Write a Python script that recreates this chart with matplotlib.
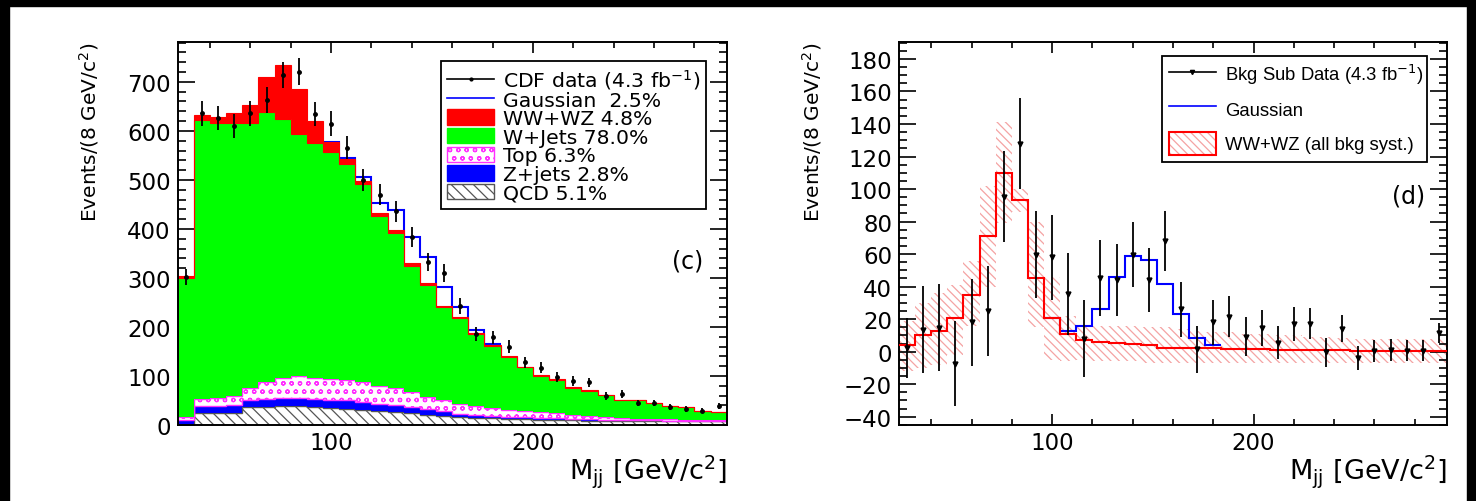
import numpy as np
import matplotlib
matplotlib.use("Agg")
import matplotlib.pyplot as plt
from matplotlib.patches import Rectangle, Patch
from matplotlib.lines import Line2D
from matplotlib.ticker import MultipleLocator
from matplotlib.legend_handler import HandlerTuple

plt.rcParams['font.family'] = ['DejaVu Sans']
plt.rcParams['mathtext.fontset'] = 'dejavusans'
plt.rcParams['hatch.linewidth'] = 0.9

# bins of 8 GeV/c^2 from 24 to 296
edges = np.arange(24, 297, 8)
centers = edges[:-1] + 4

# (c) stacked backgrounds, read per bin
qcd = [0, 24.5, 24.5, 25, 36, 37, 39, 39, 37, 35, 33, 31, 28.5, 26, 24, 20, 18, 15.6, 14, 13.6,
       12, 11.6, 11, 10, 9.5, 9, 9, 8, 8, 8, 7.8, 7.6, 7.5, 7.4]
zjets = [10, 14.5, 14.5, 15, 15, 16, 16, 16, 17, 16, 17, 15, 14.5, 15, 13, 13, 11, 6.8, 6, 5.4,
         5, 4, 3, 3.6, 2.5, 2.6, 2, 2, 1.5, 1.2, 1.2, 1.2, 1.1, 1.1]
top = [7, 14, 17, 20, 24, 35, 41.5, 44, 42.5, 43, 41, 41, 37, 34, 30, 25, 23, 20.6, 19.5, 15,
       14, 12.4, 12, 10.4, 9, 7.4, 6, 4, 3.5, 2.8, 2.5, 2.2, 1.9, 1.5]
wjets = [282, 569, 560, 557, 542, 550, 527.5, 494, 478.5, 462, 441, 404, 346, 317, 258, 228, 189,
         175, 146, 128, 108, 89.6, 74.5, 68, 55, 51, 44, 37, 38, 33, 27.5, 25, 18.5, 16]
# WW+WZ and Gaussian (shared by both panels)
wwwz = [4.4, 10, 13, 20.4, 35, 71, 109.6, 93, 45, 20.4, 10.8, 7.3, 6, 5.2, 4.6, 4, 2.5, 2.5, 2.3, 2,
        1.8, 1.6, 1.4, 1.0, 1.0, 1.0, 1.0, 0.9, 0.6, 0.2, 0.6, 0.5, 0.2, 0.1]
gauss = [0, 0, 0, 0, 0, 0, 0, 0, 0, 0.6, 2, 8.5, 20, 40.5, 54, 52.5, 39, 20.5, 6, 2,
         0, 0, 0, 0, 0, 0, 0, 0, 0, 0, 0, 0, 0, 0]
cdf_data = [302, 636, 626, 610, 636, 663, 714, 721, 634, 615, 566, 500, 470, 436, 383, 332, 310,
            243, 186, 179, 160, 128, 117, 98, 90, 87, 60, 64, 45, 45, 36, 32, 29, 39]
cdf_err = [17, 25, 25, 25, 25, 26, 27, 27, 25, 25, 24, 22, 22, 21, 20, 18, 18, 16, 14, 13, 13, 11,
           11, 10, 10, 9, 8, 8, 7, 7, 6, 6, 5, 6]

# (d) background subtracted data and WW+WZ band
sub_data = [2, 13.4, 14.7, -7.3, 18, 25, 95.4, 128, 59.6, 58, 35.4, 8, 45.2, 44, 59.6, 44, 68, 26,
            1.5, 18, 21.6, 9.3, 14.5, 5.6, 17, 17.3, -0.5, 14.2, -4, 0.5, 0.9, 0.5, 0.5, 11.4]
sub_err = [18.5, 26.7, 26.7, 26, 26.7, 27.7, 27.7, 28, 26.8, 26.2, 25.1, 23.5, 23.2, 22, 20, 19.5,
           18.6, 16.7, 14.5, 13.7, 12.7, 11.8, 11.2, 10, 10.2, 9.7, 8.7, 8.2, 7.5, 6.8, 6.7, 6.5,
           6.5, 6.2]
band_hi = [19, 30, 36, 41, 56, 102, 141, 100, 80, 46, 22, 16, 16, 16, 16, 15, 15, 14, 13, 12, 12,
           11, 11, 10, 10, 9, 9, 8.5, 8, 8, 8, 7.7, 7.7, 7.7]
band_lo = [-12, -10, -8, -2, 16, 40, 79, 86, 15, -5, -6, -5, -6, -6, -6, -7, -7, -7, -7, -7, -7,
           -7, -7, -7, -7, -6.7, -6.7, -6.7, -6.7, -6.7, -6.7, -6.7, -6.7, -6.7]

W, H = 1476, 502
fig = plt.figure(figsize=(W / 100, H / 100), dpi=100)

def axes_px(x0, x1, y0, y1):
    return fig.add_axes([x0 / W, 1 - y1 / H, (x1 - x0) / W, (y1 - y0) / H])

def style(ax, ymaj, ymin_):
    ax.set_xlim(24, 296)
    ax.xaxis.set_major_locator(MultipleLocator(100))
    ax.xaxis.set_minor_locator(MultipleLocator(20))
    ax.yaxis.set_major_locator(MultipleLocator(ymaj))
    ax.yaxis.set_minor_locator(MultipleLocator(ymin_))
    ax.tick_params(which='both', direction='in', top=True, right=True, width=1.2)
    ax.tick_params(axis='y', which='major', length=12, labelsize=16.5, pad=5)
    ax.tick_params(axis='y', which='minor', length=6)
    ax.tick_params(axis='x', which='major', length=8, labelsize=16.5, pad=4)
    ax.tick_params(axis='x', which='minor', length=4)
    for s in ax.spines.values():
        s.set_linewidth(1.4)
    ax.set_xlabel(r'M$_{\mathrm{jj}}$ [GeV/c$^{2}$]', fontsize=19.5, loc='right')
    ax.xaxis.set_label_coords(1.0, -0.072)
    ax.xaxis.label.set_va('top')
    ax.set_ylabel(r'Events/(8 GeV/c$^{2}$)', fontsize=14.5, loc='top')

# ---------------- (c) ----------------
ax1 = axes_px(177.7, 726.7, 42.7, 426)
qcd_a, z_a, top_a, wj_a, ww_a, g_a = [np.array(v, float) for v in (qcd, zjets, top, wjets, wwwz, gauss)]
c0 = qcd_a
c1 = c0 + z_a
c2 = c1 + top_a
c3 = c2 + wj_a
c4 = c3 + ww_a
c5 = c4 + g_a

ax1.stairs(c5[9:20], edges[9:21], baseline=None, color='blue', lw=1.5, zorder=1.5)
ax1.stairs(c0, edges, baseline=0, fill=True, facecolor='white', edgecolor='#555555',
           hatch='\\\\\\', lw=1, zorder=2)
ax1.stairs(c1, edges, baseline=c0, fill=True, color='blue', lw=0, zorder=2)
ax1.stairs(c2, edges, baseline=c1, fill=True, facecolor='white', edgecolor='#ff30ff',
           hatch='oo', lw=1, zorder=2)
ax1.stairs(c3, edges, baseline=c2, fill=True, color='#00ff00', lw=0, zorder=2)
ax1.stairs(c4, edges, baseline=c3, fill=True, facecolor='red', edgecolor='red', lw=0.8, zorder=2)
ax1.errorbar(centers, cdf_data, yerr=cdf_err, fmt='o', ms=2.5, color='black',
             elinewidth=1.3, capsize=0, zorder=5)
ax1.set_ylim(0, 782)
style(ax1, 100, 20)
ax1.yaxis.set_label_coords(-0.14, 1.0)
ax1.text(0.928, 0.428, '(c)', transform=ax1.transAxes, fontsize=17, ha='center', va='center')

h_data = Line2D([], [], color='black', lw=1.2, marker='o', ms=2)
h_gauss = Line2D([], [], color='blue', lw=1.2)
h_ww = Patch(facecolor='red', edgecolor='red')
h_wj = Patch(facecolor='#00ff00', edgecolor='#00ff00')
h_top = Patch(facecolor='white', edgecolor='#ff30ff', hatch='oo')
h_z = Patch(facecolor='blue', edgecolor='blue')
h_qcd = Patch(facecolor='white', edgecolor='#555555', hatch='\\\\\\')
lx0, lx1 = (441 - 177.7) / 549, (706 - 177.7) / 549
ly1 = (426 - 62) / 383.3
leg1 = ax1.legend([h_data, h_gauss, h_ww, h_wj, h_top, h_z, h_qcd],
                  [r'CDF data (4.3 fb$^{-1}$)', 'Gaussian  2.5%', 'WW+WZ 4.8%', 'W+Jets 78.0%',
                   'Top 6.3%', 'Z+jets 2.8%', 'QCD 5.1%'],
                  loc='upper left', bbox_to_anchor=(lx0, 0, lx1 - lx0, ly1), mode='expand',
                  fontsize=14.7, labelspacing=-0.02, handlelength=2.3, handleheight=0.78,
                  handletextpad=0.45, borderpad=0.3, borderaxespad=0, fancybox=False,
                  framealpha=1, edgecolor='black')
leg1.get_frame().set_linewidth(1.3)
leg1.set_zorder(10)

# ---------------- (d) ----------------
ax2 = axes_px(899, 1447, 42.7, 426)
ax2.stairs(band_hi, edges, baseline=band_lo, fill=True, facecolor='none', edgecolor='#f4a3a3',
           hatch='\\\\\\\\', lw=0, zorder=1)
ax2.stairs((ww_a + g_a)[9:20], edges[9:21], baseline=None, color='blue', lw=1.5, zorder=2)
ax2.stairs(ww_a, edges, baseline=None, color='red', lw=1.5, zorder=3)
ax2.errorbar(centers, sub_data, yerr=sub_err, fmt='v', ms=3.5, color='black',
             elinewidth=1.3, capsize=0, zorder=5)
ax2.set_ylim(-45.1, 190.6)
style(ax2, 20, 5)
ax2.yaxis.set_label_coords(-0.136, 1.0)
ax2.text(0.929, 0.598, '(d)', transform=ax2.transAxes, fontsize=17, ha='center', va='center')

h_sub = Line2D([], [], color='black', lw=1.2, marker='v', ms=3)
h_band = (Patch(facecolor='none', edgecolor='#f4a3a3', hatch='\\\\\\\\', lw=0),
          Patch(facecolor='none', edgecolor='red', lw=1.5))
rx0, rx1 = (1162 - 899) / 548, (1426.7 - 899) / 548
ry1 = (426 - 56.7) / 383.3
leg2 = ax2.legend([h_sub, h_gauss, h_band],
                  [r'Bkg Sub Data (4.3 fb$^{-1}$)', 'Gaussian', 'WW+WZ (all bkg syst.)'],
                  handler_map={tuple: HandlerTuple(ndivide=1, pad=0)},
                  loc='upper left', bbox_to_anchor=(rx0, 0, rx1 - rx0, ry1), mode='expand',
                  prop={'family': ['Liberation Sans'], 'size': 13.3}, labelspacing=0.6,
                  handlelength=2.55, handleheight=1.55, handletextpad=0.5, borderpad=0.36,
                  borderaxespad=0, fancybox=False, framealpha=1, edgecolor='black')
leg2.get_frame().set_linewidth(1.3)
leg2.set_zorder(10)

# black frame strips of the original scan
for (x, y, w, h) in [(0, 0, 9, H), (1467, 0, 9, H), (0, 0, W, 7)]:
    fig.patches.append(Rectangle((x / W, 1 - (y + h) / H), w / W, h / H,
                                 transform=fig.transFigure, color='black', zorder=0))

fig.savefig('out.png', dpi=100)
